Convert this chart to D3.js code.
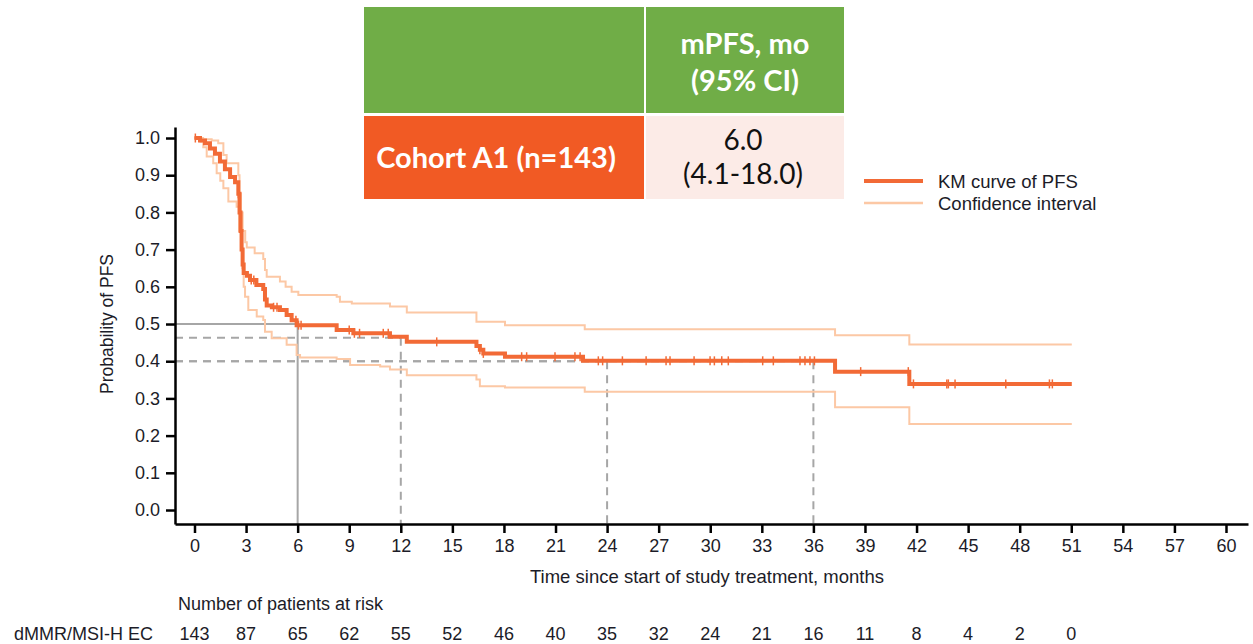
<!DOCTYPE html>
<html>
<head>
<meta charset="utf-8">
<script src="https://cdn.jsdelivr.net/npm/d3@7"></script>
<style>
  html, body { margin: 0; padding: 0; background: #fff; }
  svg { display: block; font-family: "Liberation Sans", Arial, sans-serif; }
</style>
</head>
<body>
<div id="chart"></div>
<script>
// ---- data ----
const kmTime = [0, 0.32, 0.61, 0.9, 1.19, 1.48, 1.77, 2.07, 2.36, 2.55, 2.62, 2.68, 2.74, 2.8, 2.86, 3.05, 3.23, 3.6, 4.0, 4.1, 4.2, 4.5, 4.97, 5.36, 5.65, 5.94, 8.27, 9.24, 11.37, 12.35, 16.4, 16.6, 16.8, 18.06, 22.6, 37.26, 41.58, 51.03];
const kmSurv = [1.0, 0.993, 0.986, 0.972, 0.958, 0.937, 0.916, 0.895, 0.881, 0.85, 0.8, 0.75, 0.7, 0.66, 0.637, 0.63, 0.618, 0.605, 0.594, 0.566, 0.55, 0.545, 0.538, 0.524, 0.51, 0.497, 0.484, 0.475, 0.466, 0.452, 0.441, 0.431, 0.421, 0.412, 0.401, 0.372, 0.339, 0.339];

const upperTime = [0, 0.5, 1.0, 1.38, 1.68, 1.87, 2.55, 2.62, 2.7, 2.8, 2.95, 3.04, 3.5, 4.0, 4.1, 4.2, 4.97, 5.3, 5.65, 6.04, 8.27, 8.46, 9.15, 11.37, 12.35, 16.4, 18.06, 22.7, 37.26, 41.58, 51.03];
const upperSurv = [1.0, 0.997, 0.993, 0.986, 0.954, 0.932, 0.9, 0.85, 0.8, 0.75, 0.72, 0.706, 0.69, 0.675, 0.645, 0.627, 0.614, 0.6, 0.587, 0.578, 0.573, 0.56, 0.555, 0.547, 0.531, 0.506, 0.497, 0.486, 0.47, 0.445, 0.445];

const lowerTime = [0, 0.35, 0.51, 0.71, 1.09, 1.29, 1.5, 1.68, 1.97, 2.45, 2.6, 2.7, 2.78, 2.86, 2.94, 3.13, 3.62, 4.0, 4.1, 4.49, 5.36, 5.94, 6.14, 8.27, 9.05, 10.8, 11.37, 12.35, 16.4, 16.6, 18.06, 22.7, 37.26, 41.58, 51.03];
const lowerSurv = [1.0, 0.99, 0.975, 0.95, 0.932, 0.905, 0.885, 0.865, 0.829, 0.815, 0.75, 0.7, 0.65, 0.6, 0.573, 0.538, 0.52, 0.511, 0.479, 0.462, 0.444, 0.417, 0.41, 0.406, 0.39, 0.386, 0.378, 0.362, 0.351, 0.333, 0.329, 0.318, 0.276, 0.231, 0.231];

const censorTimes = [0.05, 2.55, 3.3, 3.45, 4.6, 4.8, 5.9, 6.05, 6.2, 9.0, 9.3, 9.6, 10.98, 11.27, 14.09, 16.6, 16.8, 19.03, 19.32, 20.97, 22.13, 22.43, 23.49, 23.74, 24.89, 26.27, 27.43, 27.66, 29.06, 29.99, 30.24, 30.67, 31.05, 33.05, 33.67, 35.22, 35.51, 35.8, 36.06, 38.75, 41.52, 41.82, 43.76, 43.85, 44.24, 47.19, 49.73, 49.9];

const landmarkMonths = [6, 12, 24, 36];
const landmarkProbs = [0.5, 0.463, 0.40, 0.40];

const xTicks = d3.range(0, 61, 3);
const yTicks = d3.range(0, 11).map(d => d / 10);

const riskMonths = d3.range(0, 52, 3);
const riskCounts = [143, 87, 65, 62, 55, 52, 46, 40, 35, 32, 24, 21, 16, 11, 8, 4, 2, 0];
const riskGroup = "dMMR/MSI-H EC";

const legendLabels = ["KM curve of PFS", "Confidence interval"];
const tableHead = ["mPFS, mo", "(95% CI)"];
const tableCohort = "Cohort A1 (n=143)";
const tableValue = ["6.0", "(4.1-18.0)"];

// ---- layout ----
const width = 1253, height = 644;
const kmColor = "#F26A36", ciColor = "#FCC8A5", refColor = "#A6A6A6", textColor = "#1c1c28";

const svg = d3.select("#chart").append("svg")
  .attr("width", width)
  .attr("height", height);

const x = d3.scaleLinear().domain([-1.134, 61.28]).range([175, 1248]);
const y = d3.scaleLinear().domain([-0.0376, 1.0296]).range([524, 127]);

////////////////////////////////////////////////////////////////////////////////////

// reference lines (median + landmarks)
const ref = svg.append("g");
landmarkMonths.forEach((m, i) => {
  const p = landmarkProbs[i];
  const dash = i === 0 ? null : "8,6";
  ref.append("line")
    .attr("x1", x.range()[0]).attr("x2", x(m))
    .attr("y1", y(p)).attr("y2", y(p))
    .attr("stroke", refColor).attr("stroke-width", 2)
    .attr("stroke-dasharray", dash);
  ref.append("line")
    .attr("x1", x(m)).attr("x2", x(m))
    .attr("y1", y(p)).attr("y2", y.range()[0])
    .attr("stroke", refColor).attr("stroke-width", 2)
    .attr("stroke-dasharray", dash);
});

// axes
const xAxis = svg.append("g")
  .attr("transform", `translate(0,${y.range()[0]})`)
  .call(d3.axisBottom(x).tickValues(xTicks).tickSize(9).tickSizeOuter(0).tickPadding(6));
const yAxis = svg.append("g")
  .attr("transform", `translate(${x.range()[0]},0)`)
  .call(d3.axisLeft(y).tickValues(yTicks).tickFormat(d3.format(".1f")).tickSize(9).tickSizeOuter(0).tickPadding(6));

[xAxis, yAxis].forEach(a => {
  a.select(".domain").attr("stroke", "#000").attr("stroke-width", 2.5);
  a.selectAll(".tick line").attr("stroke", "#000").attr("stroke-width", 2.5);
  a.selectAll(".tick text").attr("fill", textColor)
    .style("font-size", "18px").style("font-family", "'Liberation Sans', Arial, sans-serif");
});

svg.append("text")
  .attr("x", 707).attr("y", 583)
  .attr("text-anchor", "middle")
  .attr("fill", textColor).style("font-size", "18.5px")
  .text("Time since start of study treatment, months");

svg.append("text")
  .attr("transform", `translate(113,${y(0.5)}) rotate(-90)`)
  .attr("text-anchor", "middle")
  .attr("fill", textColor).style("font-size", "17.5px")
  .text("Probability of PFS");

////////////////////////////////////////////////////////////////////////////////////

// curves
const step = d3.line().x(d => x(d[0])).y(d => y(d[1])).curve(d3.curveStepAfter);
const curves = svg.append("g").attr("fill", "none");

curves.append("path")
  .datum(d3.zip(upperTime, upperSurv))
  .attr("d", step).attr("stroke", ciColor).attr("stroke-width", 2);
curves.append("path")
  .datum(d3.zip(lowerTime, lowerSurv))
  .attr("d", step).attr("stroke", ciColor).attr("stroke-width", 2);
curves.append("path")
  .datum(d3.zip(kmTime, kmSurv))
  .attr("d", step).attr("stroke", kmColor).attr("stroke-width", 4);

function survAt(t) {
  const i = d3.bisectRight(kmTime, t) - 1;
  return kmSurv[Math.max(0, i)];
}

curves.selectAll("line.censor")
  .data(censorTimes)
  .enter()
  .append("line")
  .attr("class", "censor")
  .attr("x1", d => x(d)).attr("x2", d => x(d))
  .attr("y1", d => y(survAt(d)) - 4.5).attr("y2", d => y(survAt(d)) + 4.5)
  .attr("stroke", kmColor).attr("stroke-width", 1.5);

////////////////////////////////////////////////////////////////////////////////////

// legend
const legend = svg.append("g").attr("transform", "translate(864,181)");
legend.append("line").attr("x1", 0).attr("x2", 59).attr("y1", 0).attr("y2", 0)
  .attr("stroke", kmColor).attr("stroke-width", 4);
legend.append("line").attr("x1", 0).attr("x2", 59).attr("y1", 22).attr("y2", 22)
  .attr("stroke", ciColor).attr("stroke-width", 2.5);
legend.selectAll("text")
  .data(legendLabels)
  .enter()
  .append("text")
  .attr("x", 74).attr("y", (d, i) => 7 + i * 22)
  .attr("fill", textColor).style("font-size", "18.5px")
  .text(d => d);

// summary table
const table = svg.append("g").style("font-family", "Lato, 'Open Sans', sans-serif");
table.append("rect").attr("x", 364).attr("y", 7).attr("width", 280).attr("height", 106).attr("fill", "#70AD47");
table.append("rect").attr("x", 646).attr("y", 7).attr("width", 198).attr("height", 106).attr("fill", "#70AD47");
table.append("rect").attr("x", 364).attr("y", 116).attr("width", 280).attr("height", 83).attr("fill", "#F15A24");
table.append("rect").attr("x", 646).attr("y", 116).attr("width", 198).attr("height", 83).attr("fill", "#FCEBE7");

table.selectAll("text.head")
  .data(tableHead)
  .enter()
  .append("text")
  .attr("class", "head")
  .attr("x", 745).attr("y", (d, i) => 54 + i * 37)
  .attr("text-anchor", "middle")
  .attr("fill", "#fff").style("font-size", "29px").style("font-weight", "bold")
  .text(d => d);

table.append("text")
  .attr("x", 496).attr("y", 168)
  .attr("text-anchor", "middle")
  .attr("fill", "#fff").style("font-size", "29px").style("font-weight", "bold")
  .text(tableCohort);

table.selectAll("text.val")
  .data(tableValue)
  .enter()
  .append("text")
  .attr("class", "val")
  .attr("x", 743).attr("y", (d, i) => 150 + i * 34)
  .attr("text-anchor", "middle")
  .attr("fill", "#111").style("font-size", "28px")
  .text(d => d);

////////////////////////////////////////////////////////////////////////////////////

// number at risk
const risk = svg.append("g").attr("fill", textColor).style("font-size", "18px");
risk.append("text").attr("x", 178).attr("y", 610).text("Number of patients at risk");
risk.append("text").attr("x", 14).attr("y", 640).text(riskGroup);
risk.selectAll("text.count")
  .data(riskCounts)
  .enter()
  .append("text")
  .attr("class", "count")
  .attr("x", (d, i) => x(riskMonths[i]))
  .attr("y", 640)
  .attr("text-anchor", "middle")
  .text(d => d);
</script>
</body>
</html>
